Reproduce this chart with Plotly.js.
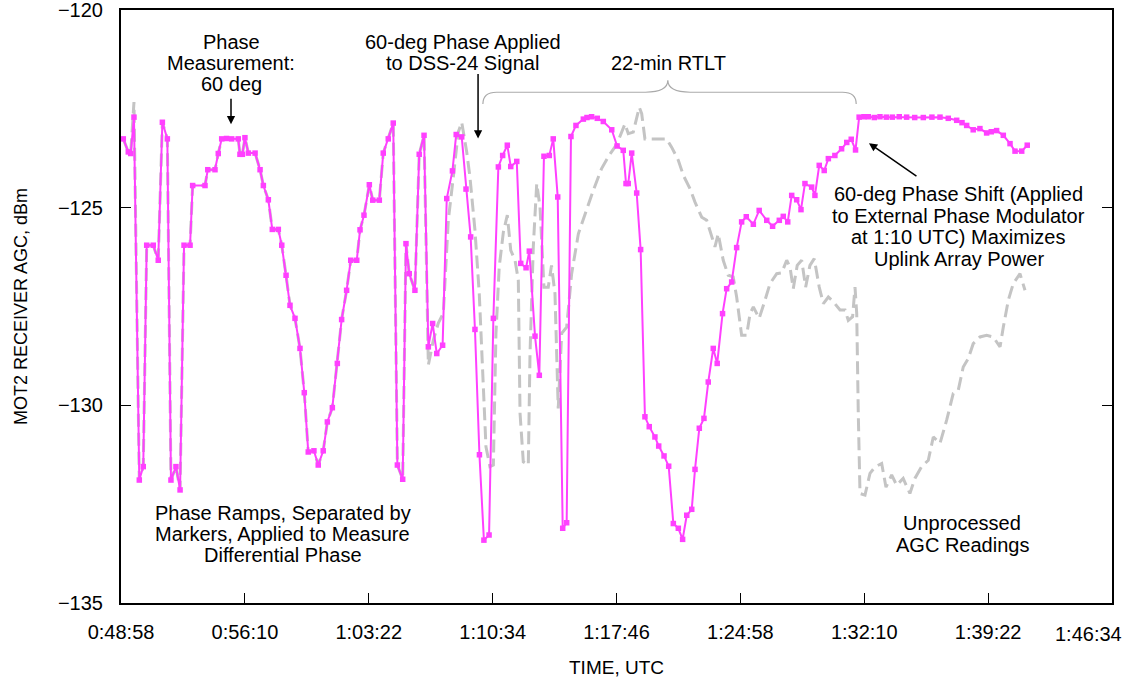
<!DOCTYPE html>
<html>
<head>
<meta charset="utf-8">
<script src="https://cdn.plot.ly/plotly-3.0.1.min.js"></script>
<style>
  html, body { margin: 0; padding: 0; background: #fff; }
  #chart { width: 1125px; height: 681px; }
</style>
</head>
<body>
<div id="chart"></div>
<script>
// Time axis labels (h:mm:ss, UTC); tick positions are derived from them
const timeTickLabels = ['0:48:58', '0:56:10', '1:03:22', '1:10:34', '1:17:46',
                        '1:24:58', '1:32:10', '1:39:22', '1:46:34'];
const agcTicks = [-135, -130, -125, -120];

// Processed AGC with phase-ramp markers (time in minutes after 0:00 UTC, AGC in dBm)
const procTime = [
  49.10,49.39,49.53,49.72,50.03,50.26,50.46,50.84,51.13,51.37,
  51.66,51.87,52.16,52.40,52.63,52.98,53.13,53.85,54.01,54.43,
  54.62,54.82,55.10,55.40,55.78,55.88,56.02,56.17,56.37,56.76,57.05,57.24,
  57.53,57.76,58.11,58.31,58.56,58.79,59.08,59.37,59.62,59.85,
  60.18,60.43,60.72,60.96,61.25,61.54,61.79,62.08,62.32,62.67,
  62.86,63.09,63.40,63.60,63.98,64.21,64.50,64.79,65.03,65.34,
  65.53,65.72,66.05,66.30,66.58,66.83,67.08,67.32,67.66,67.90,
  68.23,68.45,68.77,69.02,69.29,69.54,69.80,70.06,70.36,70.61,
  70.90,71.15,71.42,71.62,71.97,72.20,72.51,72.70,73.03,73.28,
  73.55,73.86,74.09,74.35,74.64,74.87,75.12,75.41,75.84,76.05,76.32,
  76.65,77.00,77.49,77.80,78.16,78.32,78.45,78.65,78.94,79.17,79.42,
  79.67,80.00,80.22,80.53,80.80,81.07,81.36,81.61,81.85,82.14,
  82.33,82.58,82.85,83.10,83.39,83.62,83.93,84.17,84.46,84.75,
  85.04,85.31,85.72,86.06,86.50,86.84,87.23,87.46,87.72,87.95,
  88.24,88.49,88.72,89.11,89.30,89.55,89.84,90.08,90.46,90.85,
  91.15,91.41,91.66,91.87,92.15,92.40,92.75,93.08,93.45,93.80,94.20,94.63,
  95.10,95.60,96.10,96.57,97.05,97.54,97.85,98.12,98.50,98.89,99.28,99.55,99.86,
  100.25,100.64,100.93,101.32,101.64
];
const procAgc = [
  -123.26,-123.59,-123.63,-122.71,-131.89,-131.55,-125.95,-125.95,-126.33,-122.84,
  -123.26,-131.89,-131.55,-132.14,-125.95,-125.95,-124.44,-124.44,-124.04,-124.04,
  -123.63,-123.26,-123.25,-123.26,-123.26,-123.65,-123.65,-123.23,-123.62,-123.62,-124.04,-124.44,
  -124.80,-125.55,-125.55,-125.95,-126.71,-127.47,-127.80,-128.56,-129.68,-131.18,
  -131.15,-131.51,-131.15,-130.42,-130.06,-128.94,-127.83,-127.09,-126.33,-126.33,
  -125.56,-125.19,-124.42,-124.81,-124.81,-123.62,-123.26,-122.86,-131.51,-131.87,
  -125.91,-126.67,-127.09,-123.65,-123.17,-128.52,-127.93,-128.69,-128.48,-124.77,
  -124.07,-123.15,-123.21,-124.53,-125.74,-128.08,-131.25,-133.41,-133.28,-127.80,
  -123.97,-123.68,-123.42,-123.96,-123.83,-126.41,-126.52,-126.10,-128.25,-129.24,
  -123.70,-123.68,-123.26,-124.73,-133.11,-132.97,-123.20,-122.92,-122.76,-122.72,-122.70,
  -122.74,-122.82,-123.03,-123.44,-123.55,-124.39,-124.39,-123.62,-124.63,-126.06,-130.29,
  -130.54,-130.80,-131.03,-131.28,-131.54,-132.99,-133.11,-133.39,-132.78,-132.63,
  -131.62,-130.58,-130.33,-129.41,-128.56,-128.94,-127.68,-127.05,-126.88,-126.01,
  -125.36,-125.23,-125.42,-125.07,-125.32,-125.47,-125.32,-125.22,-125.36,-124.69,
  -124.80,-125.05,-124.39,-124.48,-124.69,-123.93,-124.06,-123.76,-123.68,-123.51,
  -123.35,-123.27,-123.54,-122.71,-122.70,-122.70,-122.72,-122.70,-122.71,-122.71,-122.70,-122.71,
  -122.72,-122.72,-122.71,-122.71,-122.74,-122.79,-122.85,-122.92,-123.03,-123.00,-123.11,-123.08,-123.05,
  -123.17,-123.38,-123.57,-123.57,-123.42
];

// Unprocessed AGC readings (same units)
const rawTime = [
  49.10,49.39,49.53,49.72,50.03,50.26,50.46,50.84,51.13,51.37,
  51.66,51.87,52.16,52.40,52.63,52.98,53.13,53.85,54.01,54.43,
  54.62,54.82,55.78,55.88,56.02,56.17,56.37,56.76,57.05,57.24,
  57.53,57.76,58.11,58.31,58.56,58.79,59.08,59.37,59.62,59.85,
  60.18,60.43,60.72,60.96,61.25,61.54,61.79,62.08,62.32,62.67,
  62.86,63.09,63.40,63.60,63.98,64.21,64.50,64.79,65.03,65.34,
  65.53,65.72,66.05,66.30,66.58,
  66.83,67.12,67.41,67.70,67.80,67.99,68.28,68.57,68.77,69.06,
  69.25,69.54,69.79,69.99,70.18,70.41,70.61,70.76,70.95,71.19,
  71.42,71.62,71.87,72.06,72.16,72.35,72.64,72.74,72.93,73.13,
  73.32,73.55,73.80,73.99,74.19,74.38,74.58,74.87,75.16,75.55,
  75.94,76.42,76.90,77.33,77.78,78.26,78.45,78.74,79.09,79.23,
  79.42,79.81,80.68,80.97,81.36,81.65,82.04,82.33,82.72,83.01,
  83.30,83.49,83.68,83.97,84.26,84.55,84.75,85.04,85.33,85.53,
  85.72,86.06,86.40,86.69,87.08,87.37,87.66,87.85,88.04,88.27,
  88.53,88.76,89.01,89.26,89.55,89.79,90.08,90.37,90.76,91.05,
  91.24,91.49,91.63,91.73,91.82,91.92,92.21,92.50,92.79,93.18,
  93.43,93.76,94.05,94.43,94.82,95.11,95.50,95.89,96.18,96.57,
  96.96,97.34,97.63,97.92,98.21,98.50,98.89,99.28,99.66,100.06,
  100.25,100.54,100.83,101.22,101.51
];
const rawAgc = [
  -123.26,-123.59,-123.63,-122.33,-131.89,-131.55,-125.95,-125.95,-126.33,-122.84,
  -123.26,-131.89,-131.55,-132.14,-125.95,-125.95,-124.44,-124.44,-124.04,-124.04,
  -123.63,-123.26,-123.26,-123.65,-123.65,-123.23,-123.62,-123.62,-124.04,-124.44,
  -124.80,-125.55,-125.55,-125.95,-126.71,-127.47,-127.80,-128.56,-129.68,-131.18,
  -131.15,-131.51,-131.15,-130.42,-130.06,-128.94,-127.83,-127.09,-126.33,-126.33,
  -125.56,-125.19,-124.42,-124.81,-124.81,-123.62,-123.26,-122.86,-131.51,-131.87,
  -125.91,-126.67,-127.09,-123.65,-123.17,
  -128.98,-128.35,-127.92,-127.67,-126.84,-125.32,-124.23,-123.09,-122.84,-123.59,
  -124.23,-125.57,-127.17,-129.11,-131.05,-131.55,-131.51,-128.18,-126.50,-125.62,
  -125.19,-126.08,-126.33,-126.84,-130.20,-131.43,-131.51,-128.69,-125.99,-124.39,
  -124.98,-127.01,-127.01,-126.46,-127.17,-130.08,-128.18,-128.02,-126.67,-125.66,
  -125.15,-124.56,-124.01,-123.68,-123.40,-122.88,-123.13,-123.09,-122.46,-122.62,
  -123.26,-123.26,-123.26,-123.47,-123.80,-124.18,-124.52,-124.86,-125.24,-125.32,
  -125.74,-125.99,-125.66,-126.33,-126.71,-126.75,-127.26,-128.23,-128.23,-127.68,
  -127.51,-127.80,-127.34,-126.92,-126.67,-126.65,-126.33,-126.50,-127.05,-126.46,
  -126.33,-127.01,-126.46,-126.29,-127.01,-127.43,-127.26,-127.38,-127.59,-127.59,
  -127.85,-127.76,-127.01,-127.68,-130.21,-132.23,-132.27,-131.72,-131.56,-131.47,
  -132.07,-131.76,-132.02,-131.85,-132.23,-131.85,-131.55,-131.39,-130.80,-130.96,
  -130.37,-129.70,-129.62,-129.03,-128.82,-128.44,-128.27,-128.23,-128.27,-128.52,
  -128.02,-127.34,-126.92,-126.67,-127.09
];

// "h:mm:ss" -> minutes
function toMinutes(s) {
  const p = s.split(':').map(Number);
  return p[0] * 60 + p[1] + p[2] / 60;
}
const tickVals = timeTickLabels.map(toMinutes);
const lastTick = timeTickLabels.length - 1;
// the right-most label is pulled inside the page edge, so it is drawn separately
const axisTickText = timeTickLabels.map((t, i) => (i === lastTick ? '' : t));

const FONT = 'Liberation Sans, Arial, Helvetica, sans-serif';
const textFont = { family: FONT, size: 20, color: '#000' };

// multi-line label drawn line by line with fixed spacing
function textBlock(lines, x, y, gap) {
  return lines.map((t, i) => ({
    x: x, y: y, xref: 'x', yref: 'y', text: t, showarrow: false,
    xanchor: 'center', yanchor: 'middle', yshift: -i * gap, font: textFont
  }));
}
function arrow(x, y, ax, ay) {
  return { x: x, y: y, xref: 'x', yref: 'y', ax: ax, ay: ay, text: '',
           showarrow: true, arrowhead: 2, arrowsize: 1.1, arrowwidth: 1.5,
           arrowcolor: '#000', standoff: 0 };
}

const annotations = [].concat(
  textBlock(['Phase', 'Measurement:', '60 deg'], 55.36, -120.82, 21),
  [arrow(55.36, -122.89, 0, -27)],
  textBlock(['60-deg Phase Applied', 'to DSS-24 Signal'], 68.84, -120.82, 21),
  [arrow(69.72, -123.25, 0, -66)],
  textBlock(['22-min RTLT'], 80.76, -121.33, 21),
  textBlock(['60-deg Phase Shift (Applied', 'to External Phase Modulator',
             'at 1:10 UTC) Maximizes', 'Uplink Array Power'], 97.67, -124.66, 21.5),
  [arrow(92.44, -123.37, 49, 34)],
  textBlock(['Unprocessed', 'AGC Readings'], 97.85, -132.98, 22),
  textBlock(['Phase Ramps, Separated by', 'Markers, Applied to Measure',
             'Differential Phase'], 58.38, -132.73, 21),
  [{
    x: tickVals[lastTick], y: 0, xref: 'x', yref: 'paper', text: timeTickLabels[lastTick],
    showarrow: false, xanchor: 'right', yanchor: 'top', xshift: 12, yshift: -18,
    font: { family: FONT, size: 20, color: '#000' }
  }]
);

// curly brace spanning the round-trip light time
const bx0 = 70.0, bx1 = 91.7, bmid = 80.75;
const bLine = -122.08, bTip = -121.78, bEnd = -122.38;
const bracePath =
  'M' + bx0 + ',' + bEnd +
  ' Q' + bx0 + ',' + bLine + ' ' + (bx0 + 0.8) + ',' + bLine +
  ' L' + (bmid - 1.3) + ',' + bLine +
  ' Q' + bmid + ',' + bLine + ' ' + bmid + ',' + bTip +
  ' Q' + bmid + ',' + bLine + ' ' + (bmid + 1.3) + ',' + bLine +
  ' L' + (bx1 - 0.8) + ',' + bLine +
  ' Q' + bx1 + ',' + bLine + ' ' + bx1 + ',' + bEnd;

const traces = [
  {
    x: rawTime, y: rawAgc, type: 'scatter', mode: 'lines',
    line: { color: '#c4c4c4', width: 3, dash: '13px,6px' },
    hoverinfo: 'skip', showlegend: false
  },
  {
    x: procTime, y: procAgc, type: 'scatter', mode: 'lines+markers',
    line: { color: '#ff40ff', width: 2 },
    marker: { color: '#ff40ff', size: 5.5, symbol: 'square' },
    showlegend: false
  }
];

const layout = {
  width: 1125, height: 681,
  margin: { l: 121, r: 13, t: 10, b: 78 },
  paper_bgcolor: '#fff', plot_bgcolor: '#fff',
  font: { family: FONT, size: 20, color: '#000' },
  showlegend: false,
  xaxis: {
    range: [tickVals[0] - 0.0005, tickVals[lastTick] + 0.0005],
    tickmode: 'array', tickvals: tickVals, ticktext: axisTickText,
    ticks: 'inside', ticklen: 10, tickwidth: 1.2, tickcolor: '#000',
    showline: true, linecolor: '#000', linewidth: 2, mirror: true,
    showgrid: false, zeroline: false, ticklabelstandoff: 10,
    ticklabeloverflow: 'allow',
    tickfont: { family: FONT, size: 20 },
    title: { text: 'TIME, UTC', font: { family: FONT, size: 19 }, standoff: 19 }
  },
  yaxis: {
    range: [-135, -120],
    tickmode: 'array', tickvals: agcTicks,
    ticks: 'inside', ticklen: 10, tickwidth: 1.2, tickcolor: '#000',
    showline: true, linecolor: '#000', linewidth: 2, mirror: 'ticks',
    showgrid: false, zeroline: false, ticklabelstandoff: 12,
    ticklabeloverflow: 'allow',
    tickfont: { family: FONT, size: 20 },
    title: { text: 'MOT2 RECEIVER AGC, dBm', font: { family: FONT, size: 18 }, standoff: 26 }
  },
  shapes: [{
    type: 'path', xref: 'x', yref: 'y', path: bracePath,
    line: { color: '#aaaaaa', width: 1.2 }
  }],
  annotations: annotations
};

Plotly.newPlot('chart', traces, layout, { staticPlot: true, displayModeBar: false });
</script>
</body>
</html>
